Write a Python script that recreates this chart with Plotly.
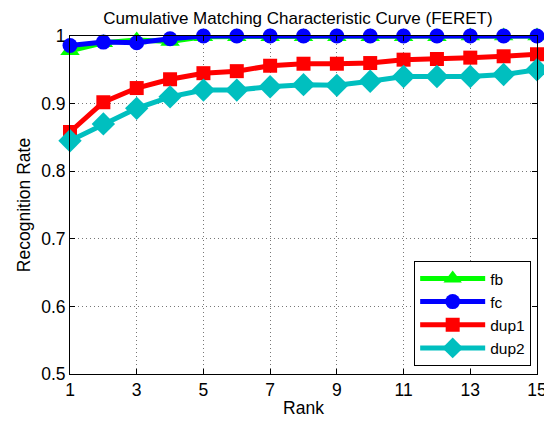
import plotly.graph_objects as go

ranks = list(range(1, 16))
fb = [0.978, 0.990, 0.994, 0.992, 0.999, 0.999, 0.999, 0.999, 0.999, 0.999, 0.999, 0.999, 1.0, 1.0, 1.0]
fc = [0.986, 0.991, 0.990, 0.996, 1.0, 1.0, 1.0, 1.0, 1.0, 1.0, 1.0, 1.0, 1.0, 1.0, 1.0]
dup1 = [0.858, 0.902, 0.923, 0.936, 0.945, 0.948, 0.956, 0.959, 0.959, 0.960, 0.965, 0.966, 0.968, 0.970, 0.973]
dup2 = [0.845, 0.870, 0.893, 0.910, 0.920, 0.920, 0.925, 0.928, 0.927, 0.933, 0.940, 0.940, 0.940, 0.943, 0.950]

series = [
    ("fb", fb, "#00ff00", "triangle-up", 17),
    ("fc", fc, "#0000ff", "circle", 15),
    ("dup1", dup1, "#ff0000", "square", 14),
    ("dup2", dup2, "#00bfbf", "diamond", 18),
]

fig = go.Figure()
for name, vals, color, sym, size in series:
    fig.add_trace(go.Scatter(
        x=ranks, y=vals, name=name, mode="lines+markers",
        line=dict(color=color, width=5),
        marker=dict(symbol=sym, size=size, color=color, line=dict(width=0)),
        cliponaxis=False,
    ))

FS = 17.5
axis_common = dict(
    showline=True, linecolor="black", linewidth=1, mirror="allticks",
    ticks="inside", ticklen=5, tickcolor="black",
    showgrid=True, gridcolor="#777", griddash="1px,3px", gridwidth=1,
    zeroline=False, tickfont=dict(size=FS, color="black"), automargin=False,
)

# page body has an 8px offset, so the figure is sized to the remaining viewport
fig.update_layout(
    width=544, height=413,
    margin=dict(l=62, r=15, t=28, b=47),
    paper_bgcolor="white", plot_bgcolor="white",
    font=dict(family="Liberation Sans, Arial, sans-serif", size=FS, color="black"),
    title=dict(text="Cumulative Matching Characteristic Curve (FERET)", x=0.533, xanchor="center",
               y=0.99, yanchor="top", font=dict(size=17)),
    xaxis=dict(range=[1, 15], tickvals=[1, 3, 5, 7, 9, 11, 13, 15],
               title=dict(text="Rank", standoff=2, font=dict(size=FS)), **axis_common),
    yaxis=dict(range=[0.5, 1], tickvals=[0.5, 0.6, 0.7, 0.8, 0.9, 1.0],
               ticktext=["0.5", "0.6", "0.7", "0.8", "0.9", "1"],
               title=dict(text="Recognition Rate", standoff=6, font=dict(size=FS)), **axis_common),
    legend=dict(x=0.737, y=0.024, xanchor="left", yanchor="bottom",
                bordercolor="black", borderwidth=1, bgcolor="white",
                font=dict(size=15.5), itemwidth=65, tracegroupgap=0),
    showlegend=True,
)

fig.write_html("out.html")
